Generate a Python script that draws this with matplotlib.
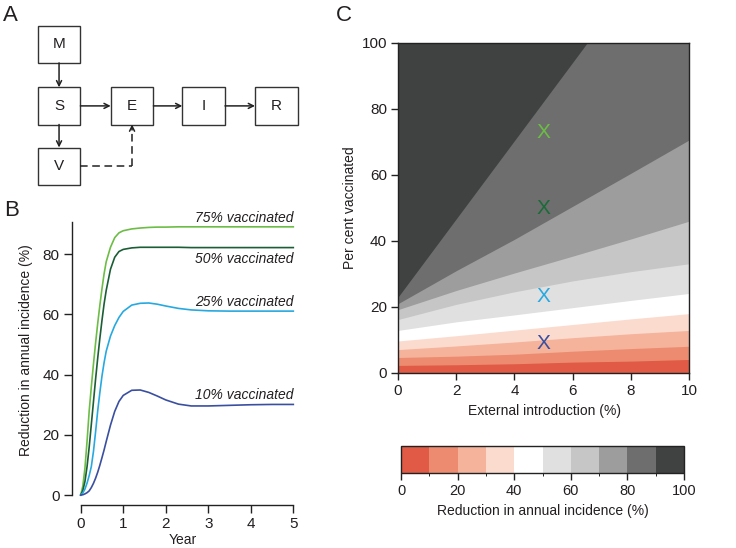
import matplotlib
matplotlib.use("Agg")
import matplotlib.pyplot as plt
import matplotlib.patches as mpatches
from matplotlib.colors import ListedColormap, BoundaryNorm
import matplotlib.colorbar as mcolorbar
import numpy as np

plt.rcParams['font.family'] = ['Liberation Sans', 'DejaVu Sans']
plt.rcParams['font.size'] = 10
TXT = '#231f20'

# ---------------- Panel A data (diagram) ----------------
compartments = ['M', 'S', 'V', 'E', 'I', 'R']

# ---------------- Panel B data ----------------
years = [0, 0.05, 0.1, 0.15, 0.2, 0.25, 0.3, 0.35, 0.4, 0.45, 0.5, 0.55, 0.6,
         0.7, 0.8, 0.9, 1.0, 1.2, 1.4, 1.6, 1.8, 2.0, 2.3, 2.6, 3.0, 3.5,
         4.0, 4.5, 5.0]
vacc75 = [0, 3, 9, 18, 28, 36, 43.5, 50.5, 57, 63, 68.5, 73.5, 77.5,
          82.3, 85.5, 87.1, 87.8, 88.4, 88.7, 88.9, 89.0, 89.0, 89.1, 89.1,
          89.1, 89.1, 89.1, 89.1, 89.1]
vacc50 = [0, 1.5, 4.5, 9.5, 16, 23.5, 31, 38.5, 45.5, 52, 58, 63.5, 68,
          75, 79, 80.9, 81.6, 82.1, 82.3, 82.3, 82.3, 82.3, 82.3, 82.2,
          82.2, 82.2, 82.2, 82.2, 82.2]
vacc25 = [0, 0.7, 2, 4, 6.5, 9.5, 14.5, 21, 28, 34, 39.5, 44, 47.8,
          52.8, 56.3, 59, 61, 63.1, 63.7, 63.8, 63.4, 62.8, 62.0, 61.5,
          61.2, 61.1, 61.1, 61.1, 61.1]
vacc10 = [0, 0.1, 0.4, 0.8, 1.4, 2.5, 3.9, 5.6, 7.6, 9.9, 12.4, 15, 17.8,
          23.2, 27.8, 31.1, 33.1, 34.8, 34.9, 34.1, 32.9, 31.6, 30.2, 29.6,
          29.6, 29.8, 30.0, 30.1, 30.1]
series_labels = ['75% vaccinated', '50% vaccinated', '25% vaccinated', '10% vaccinated']
series_colors = ['#6cbd45', '#1b5e36', '#27a9e0', '#3a4fa0']
label_y = [90.6, 77.0, 62.8, 31.9]

# ---------------- Panel C data ----------------
ext_intro = [0, 2, 4, 6, 8, 10]
boundary_levels = [10, 20, 30, 40, 50, 60, 70, 80, 90]
b10 = [2.3, 2.5, 2.8, 3.3, 3.6, 4.1]
b20 = [4.7, 5.1, 5.7, 6.6, 7.4, 8.1]
b30 = [7.1, 8.2, 9.4, 10.7, 11.9, 12.9]
b40 = [9.7, 11.3, 13.0, 14.7, 16.4, 18.0]
b50 = [12.9, 15.5, 17.6, 19.8, 22.0, 24.1]
b60 = [16.2, 20.8, 24.6, 27.9, 30.7, 33.1]
b70 = [19.2, 25.0, 30.3, 35.4, 40.6, 46.0]
b80 = [21.0, 31.0, 40.5, 50.5, 60.5, 70.6]
b90 = [23.0, 46.7, 70.4, 94.1, 117.8, 141.5]
boundaries = [b10, b20, b30, b40, b50, b60, b70, b80, b90]
band_colors = ['#e05a45', '#ec8b6f', '#f5b39b', '#fcdbcf', '#ffffff',
               '#e0e0e0', '#c6c6c6', '#9d9d9d', '#6e6e6e', '#404141']
marker_x = [5, 5, 5, 5]
marker_y = [72.9, 49.9, 23.1, 8.8]
marker_colors = ['#6cbd45', '#1b6b3a', '#27a9e0', '#3a4fa0']
cbar_ticks = [0, 20, 40, 60, 80, 100]

W, H = 736, 548
fig = plt.figure(figsize=(W / 100, H / 100), dpi=100)


def rect(l, t, r, b):
    return [l / W, 1 - b / H, (r - l) / W, (b - t) / H]


# ---------------- Panel A ----------------
axA = fig.add_axes([0, 0, 1, 1])
axA.set_xlim(0, W)
axA.set_ylim(H, 0)
axA.axis('off')
boxes = {
    'M': (37.7, 25.7), 'S': (37.7, 87.3), 'V': (37.7, 147.5),
    'E': (110.7, 87.3), 'I': (182.3, 87.3), 'R': (255.0, 87.3),
}
bw, bh = 42.7, 37.2
ec = '#333333'
for name in compartments:
    x0, y0 = boxes[name]
    axA.add_patch(mpatches.Rectangle((x0, y0), bw, bh, fill=False, ec=ec, lw=1.0))
    axA.text(x0 + bw / 2, y0 + bh / 2, name, ha='center', va='center',
             fontsize=11, color=TXT)


def arrow(p0, p1, ls='-'):
    axA.annotate('', xy=p1, xytext=p0,
                 arrowprops=dict(arrowstyle='->', lw=1.1, color='#222222',
                                 shrinkA=0, shrinkB=0, mutation_scale=9,
                                 linestyle=ls))


cx = 37.7 + bw / 2
arrow((cx, 25.7 + bh), (cx, 87.3))
arrow((cx, 87.3 + bh), (cx, 147.5))
ymid = 87.3 + bh / 2
arrow((80.4, ymid), (110.7, ymid))
arrow((153.4, ymid), (182.3, ymid))
arrow((225.0, ymid), (255.0, ymid))
ex = 110.7 + bw / 2
axA.plot([80.4, ex], [165.7, 165.7], color='#222222', lw=1.1, dashes=(5, 3))
axA.plot([ex, ex], [165.7, 128.0], color='#222222', lw=1.1, dashes=(5, 3))
arrow((ex, 130.0), (ex, 124.5))

fig.text(3 / W, 1 - 21 / H, 'A', fontsize=16, color=TXT, ha='left', va='baseline')
fig.text(4 / W, 1 - 216 / H, 'B', fontsize=16, color=TXT, ha='left', va='baseline')
fig.text(336 / W, 1 - 21 / H, 'C', fontsize=16, color=TXT, ha='left', va='baseline')

# ---------------- Panel B ----------------
axB = fig.add_axes(rect(72.2, 221.7, 293.3, 505))
axB.set_xlim(-0.2, 5.0)
axB.set_ylim(-3.3, 90.8)
for vals, c in zip([vacc75, vacc50, vacc25, vacc10], series_colors):
    axB.plot(years, vals, color=c, lw=1.2, clip_on=False)
for lab, ly in zip(series_labels, label_y):
    axB.text(5.0, ly, lab, ha='right', va='baseline', style='italic',
             fontsize=10, color=TXT)
for s in ['top', 'right']:
    axB.spines[s].set_visible(False)
axB.spines['left'].set_bounds(0, 90.8)
axB.spines['bottom'].set_bounds(0, 5)
for s in ['left', 'bottom']:
    axB.spines[s].set_color('#222222')
    axB.spines[s].set_linewidth(1.0)
axB.set_xticks([0, 1, 2, 3, 4, 5])
axB.set_yticks([0, 20, 40, 60, 80])
axB.tick_params(direction='out', length=6, width=1.0, colors='#222222',
                labelcolor=TXT, labelsize=11, pad=3)
fig.text(26 / W, 1 - 350 / H, 'Reduction in annual incidence (%)', rotation=90,
         ha='center', va='center', fontsize=10, color=TXT)
fig.text(183 / W, 1 - 540 / H, 'Year', ha='center', va='center', fontsize=10, color=TXT)

# ---------------- Panel C ----------------
axC = fig.add_axes(rect(398, 43, 689, 373))
axC.set_xlim(0, 10)
axC.set_ylim(0, 100)
x = np.array(ext_intro, dtype=float)
axC.fill_between(x, 0, 100, color=band_colors[0], lw=0)
for b, col in zip(boundaries, band_colors[1:]):
    axC.fill_between(x, b, 100, color=col, lw=0)
for mx, my, mc in zip(marker_x, marker_y, marker_colors):
    axC.text(mx, my, 'X', ha='center', va='center', fontsize=15, color=mc)
axC.set_xticks([0, 2, 4, 6, 8, 10])
axC.set_yticks([0, 20, 40, 60, 80, 100])
axC.tick_params(direction='out', length=5, width=1.0, colors='#222222',
                labelcolor=TXT, labelsize=11, pad=3)
for s in axC.spines.values():
    s.set_color('#222222')
    s.set_linewidth(1.0)
fig.text(350 / W, 1 - 208 / H, 'Per cent vaccinated', rotation=90,
         ha='center', va='center', fontsize=10, color=TXT)
fig.text(545 / W, 1 - 411 / H, 'External introduction (%)', ha='center',
         va='center', fontsize=10, color=TXT)

# colorbar
cax = fig.add_axes(rect(401, 446, 684, 473))
cmap = ListedColormap(band_colors)
norm = BoundaryNorm(np.arange(0, 101, 10), cmap.N)
cb = mcolorbar.ColorbarBase(cax, cmap=cmap, norm=norm, orientation='horizontal',
                            ticks=cbar_ticks)
cb.outline.set_edgecolor('#222222')
cb.outline.set_linewidth(1.0)
cax.tick_params(direction='out', length=5, width=1.0, colors='#222222',
                labelcolor=TXT, labelsize=10.5, pad=3)
fig.text(543 / W, 1 - 511 / H, 'Reduction in annual incidence (%)', ha='center',
         va='center', fontsize=10, color=TXT)

fig.savefig('out.png', dpi=100)
